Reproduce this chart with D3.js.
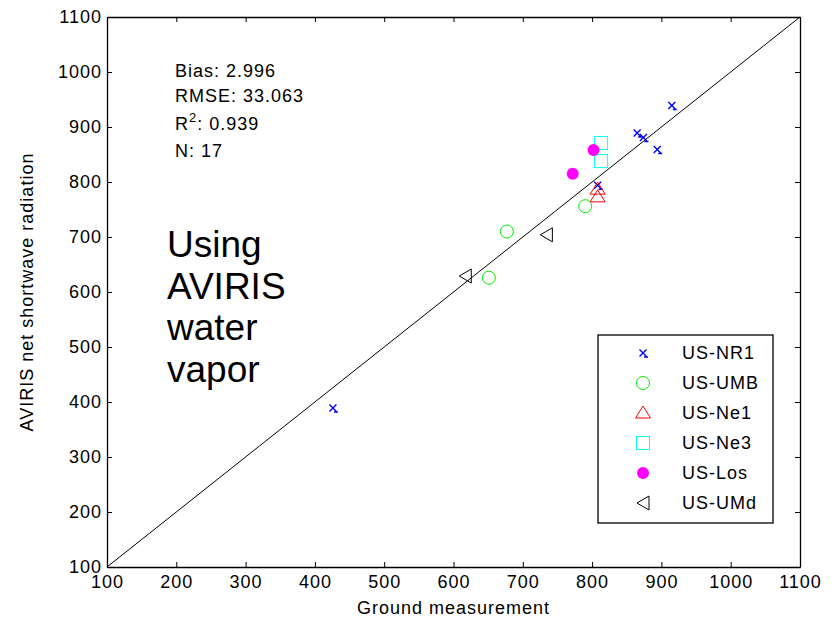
<!DOCTYPE html>
<html>
<head>
<meta charset="utf-8">
<script src="https://cdn.jsdelivr.net/npm/d3@7"></script>
<style>
  body { margin: 0; background: #fff; }
  svg { display: block; font-family: "Liberation Sans", Arial, Helvetica, sans-serif; }
  .small { letter-spacing: 1px; }
</style>
</head>
<body>
<div id="chart"></div>
<script>
// data (ground vs AVIRIS net shortwave)
const ticks = [100, 200, 300, 400, 500, 600, 700, 800, 900, 1000, 1100];
const siteNames = ["US-NR1", "US-UMB", "US-Ne1", "US-Ne3", "US-Los", "US-UMd"];

const nr1 = [[915, 939], [865, 889], [874, 881], [894, 859], [426, 389], [808, 794]];
const umb = [[677, 710], [651, 626], [790, 756]];
const ne1 = [[808, 787], [808, 773]];
const ne3 = [[813, 871], [813, 838]];
const los = [[802, 858], [772, 815]];
const umd = [[734, 704], [617, 629]];

const statsLines = ["Bias: 2.996", "RMSE: 33.063", "R2: 0.939", "N: 17"];
const noteLines = ["Using", "AVIRIS", "water", "vapor"];

const w = 838, h = 619;
const marginTop = 17, marginRight = 38, marginBottom = 52, marginLeft = 107;

const svg = d3.select("#chart").append("svg")
  .attr("width", w)
  .attr("height", h);

const x = d3.scaleLinear().domain([100, 1100]).range([marginLeft, w - marginRight]);
const y = d3.scaleLinear().domain([100, 1100]).range([h - marginBottom, marginTop]);

const series = [
  { key: siteNames[0], data: nr1, shape: "x", color: "#0000ff" },
  { key: siteNames[1], data: umb, shape: "circle", color: "#00ee00" },
  { key: siteNames[2], data: ne1, shape: "tri", color: "#ff0000" },
  { key: siteNames[3], data: ne3, shape: "square", color: "#00ffff" },
  { key: siteNames[4], data: los, shape: "dot", color: "#ff00ff" },
  { key: siteNames[5], data: umd, shape: "left", color: "#000000" }
];

function drawMarker(g, shape, color) {
  if (shape === "x") {
    g.append("path").attr("d", "M-3.5,-3.5L3.5,3.5M-3.5,3.5L3.5,-3.5M1,4L5,4")
      .attr("stroke", color).attr("stroke-width", 1.4).attr("fill", "none");
  } else if (shape === "circle") {
    g.append("circle").attr("r", 6.5).attr("fill", "none").attr("stroke", color).attr("stroke-width", 1);
  } else if (shape === "tri") {
    g.append("path").attr("d", "M0,-7L7.5,5L-7.5,5Z").attr("fill", "none").attr("stroke", color).attr("stroke-width", 1);
  } else if (shape === "square") {
    g.append("rect").attr("x", -6.5).attr("y", -6.5).attr("width", 13).attr("height", 13)
      .attr("fill", "none").attr("stroke", color).attr("stroke-width", 1);
  } else if (shape === "dot") {
    g.append("circle").attr("r", 6).attr("fill", color);
  } else if (shape === "left") {
    g.append("path").attr("d", "M-6,0L6,-7L6,7Z").attr("fill", "none").attr("stroke", color).attr("stroke-width", 1);
  }
}

// 1:1 line
svg.append("line")
  .attr("x1", x(100)).attr("y1", y(100))
  .attr("x2", x(1100)).attr("y2", y(1100))
  .attr("stroke", "#000").attr("stroke-width", 1);

// points
series.forEach(s => {
  svg.append("g").selectAll("g")
    .data(s.data)
    .join("g")
    .attr("transform", d => `translate(${x(d[0])},${y(d[1])})`)
    .each(function() { drawMarker(d3.select(this), s.shape, s.color); });
});

// axes, ticks pointing inward on all four sides
const fs = 18;
svg.append("g")
  .attr("transform", `translate(0,${h - marginBottom})`)
  .call(d3.axisBottom(x).tickValues(ticks).tickFormat(d3.format("d")).tickSizeInner(-5).tickSizeOuter(0).tickPadding(8))
  .call(g => g.selectAll("text").attr("class", "small").attr("font-size", fs).attr("fill", "#000"));

svg.append("g")
  .attr("transform", `translate(${marginLeft},0)`)
  .call(d3.axisLeft(y).tickValues(ticks).tickFormat(d3.format("d")).tickSizeInner(-5).tickSizeOuter(0).tickPadding(5))
  .call(g => g.selectAll("text").attr("class", "small").attr("font-size", fs).attr("fill", "#000"));

svg.append("g")
  .attr("transform", `translate(0,${marginTop})`)
  .call(d3.axisTop(x).tickValues(ticks).tickFormat("").tickSizeInner(-5).tickSizeOuter(0));

svg.append("g")
  .attr("transform", `translate(${w - marginRight},0)`)
  .call(d3.axisRight(y).tickValues(ticks).tickFormat("").tickSizeInner(-5).tickSizeOuter(0));

svg.selectAll(".domain").attr("stroke-width", 1.3);

// axis titles
svg.append("text")
  .attr("class", "small")
  .attr("x", (x(100) + x(1100)) / 2)
  .attr("y", 614)
  .attr("text-anchor", "middle")
  .attr("font-size", fs)
  .text("Ground measurement");

svg.append("text")
  .attr("class", "small")
  .attr("transform", `translate(33,${(y(100) + y(1100)) / 2}) rotate(-90)`)
  .attr("text-anchor", "middle")
  .attr("font-size", fs)
  .text("AVIRIS net shortwave radiation");

// stats block
const statsY = [77, 102, 130, 157];
statsLines.forEach((t, i) => {
  const txt = svg.append("text").attr("class", "small").attr("x", 175).attr("y", statsY[i]).attr("font-size", fs);
  if (t.startsWith("R2")) {
    txt.append("tspan").text("R");
    txt.append("tspan").attr("dy", -8).attr("font-size", 13).text("2");
    txt.append("tspan").attr("dy", 8).text(t.slice(2));
  } else {
    txt.text(t);
  }
});

// big annotation
noteLines.forEach((t, i) => {
  svg.append("text")
    .attr("x", 167)
    .attr("y", 257 + i * 41.7)
    .attr("font-size", 37)
    .text(t);
});

// legend
const lg = svg.append("g");
lg.append("rect")
  .attr("x", 598).attr("y", 335).attr("width", 175).attr("height", 188)
  .attr("fill", "#fff").attr("stroke", "#000").attr("stroke-width", 1.3);

series.forEach((s, i) => {
  const ry = 353 + i * 30;
  const m = lg.append("g").attr("transform", `translate(643,${ry})`);
  drawMarker(m, s.shape, s.color);
  lg.append("text")
    .attr("class", "small")
    .attr("x", 682).attr("y", ry)
    .attr("dy", "0.35em")
    .attr("font-size", fs)
    .text(s.key);
});
</script>
</body>
</html>
